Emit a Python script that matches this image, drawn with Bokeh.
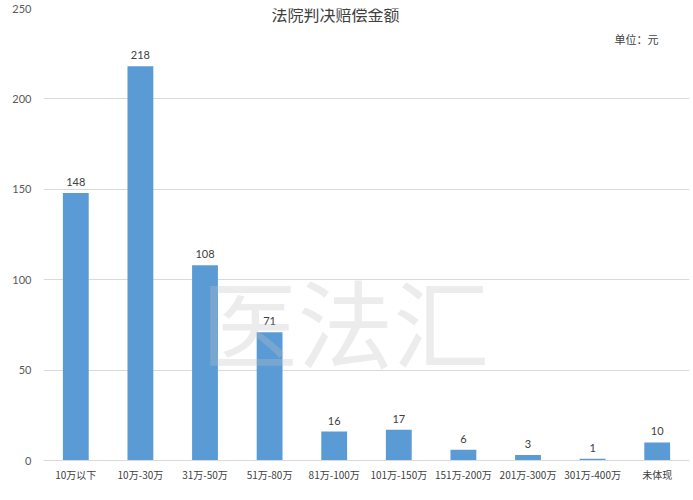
from bokeh.plotting import figure
from bokeh.models import ColumnDataSource, FactorRange, Range1d, FixedTicker, Label
from bokeh.core.properties import value
from bokeh.embed import file_html
from bokeh.resources import INLINE

title_text = "法院判决赔偿金额"
unit_text = "单位：元"
categories = ["10万以下", "10万-30万", "31万-50万", "51万-80万", "81万-100万",
              "101万-150万", "151万-200万", "201万-300万", "301万-400万", "未体现"]
counts = [148, 218, 108, 71, 16, 17, 6, 3, 1, 10]
y_ticks = [0, 50, 100, 150, 200, 250]

src = ColumnDataSource(dict(cat=categories, val=counts, lab=[str(v) for v in counts]))

p = figure(x_range=FactorRange(factors=categories, range_padding=0),
           y_range=Range1d(0, 250),
           width=693, height=500, output_backend="svg", toolbar_location=None,
           min_border_left=43, min_border_right=4, min_border_top=8, min_border_bottom=40)
p.outline_line_color = None
p.background_fill_color = "white"
p.border_fill_color = "white"

p.vbar(x="cat", top="val", width=0.4, source=src, fill_color="#5B9BD5", line_color=None)
p.text(x="cat", y="val", text="lab", source=src, y_offset=-7,
       text_align="center", text_baseline="bottom", text_font_size="11px",
       text_color="#404040", text_font=value("Lato"))

p.yaxis.ticker = FixedTicker(ticks=y_ticks)
p.yaxis.axis_line_color = None
p.yaxis.major_tick_line_color = None
p.yaxis.minor_tick_line_color = None
p.yaxis.major_label_text_font_size = "11px"
p.yaxis.major_label_text_color = "#595959"
p.yaxis.major_label_text_font = "Lato"
p.yaxis.major_label_standoff = 6

p.xaxis.axis_line_color = "#D9D9D9"
p.xaxis.major_tick_line_color = None
p.xaxis.minor_tick_line_color = None
p.xaxis.major_label_text_font_size = "10px"
p.xaxis.major_label_text_color = "#404040"
p.xaxis.major_label_text_font = "Noto Sans CJK SC"
p.xaxis.major_label_standoff = 0

p.xgrid.grid_line_color = None
p.ygrid.grid_line_color = "#D9D9D9"
p.ygrid.ticker = FixedTicker(ticks=y_ticks)

# watermark
p.add_layout(Label(x=4.67, y=78, text="医法汇", text_align="center", text_baseline="middle",
                   text_font_size="96px", text_font="Noto Sans CJK SC",
                   text_color="#C0C0C0", text_alpha=0.3))

p.add_layout(Label(x=4.52, y=247, text=title_text, text_align="center", text_baseline="middle",
                   text_font_size="16px", text_font="Noto Sans CJK SC", text_color="#404040"))
p.add_layout(Label(x=9.18, y=233, text=unit_text, text_align="center", text_baseline="middle",
                   text_font_size="11px", text_font="Noto Sans CJK SC", text_color="#404040"))

open("out.html", "w").write(file_html(p, INLINE))
